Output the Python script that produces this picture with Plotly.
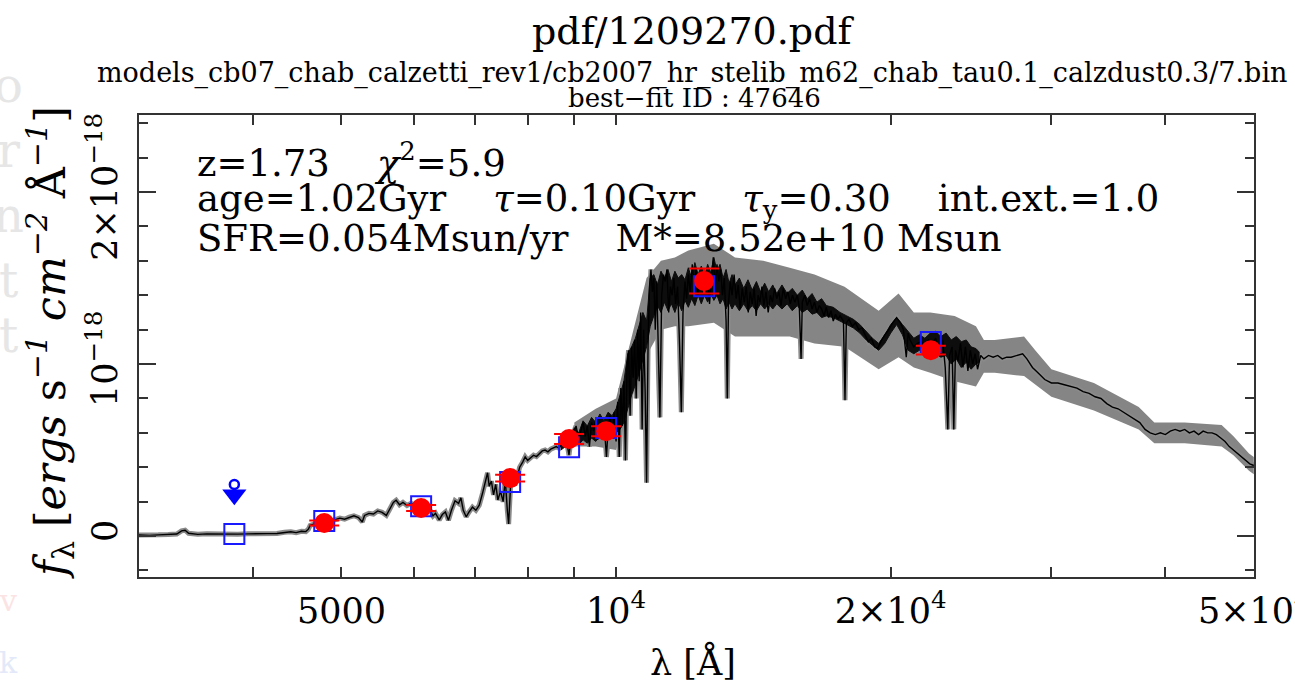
import plotly.graph_objects as go

# ---------------- data (flux in units of 1e-18 erg/s/cm2/A) ----------------
FLUX_UNIT = 1e-18

spec_wl = [3000, 3080, 3150, 3230, 3300, 3340, 3370, 3400, 3480, 3560, 3650, 3750, 3850, 3950,
           4050, 4150, 4250, 4330, 4400, 4460, 4520, 4570, 4600, 4620, 4680, 4740, 4800, 4860,
           4920, 4980, 5040, 5100, 5160, 5220, 5270, 5300, 5360, 5420, 5480, 5540, 5600, 5640,
           5700, 5740, 5790, 5840, 5900, 5960, 6020, 6080, 6140, 6200, 6260, 6300, 6340, 6400,
           6450, 6500, 6550, 6600, 6660, 6720, 6760, 6800, 6850, 6900, 6960, 7020, 7080, 7140,
           7200, 7230, 7260, 7300, 7340, 7380, 7420, 7470, 7520, 7560, 7600, 7625, 7660, 7720,
           7780, 7840, 7900, 7950, 8000, 8060, 8120, 8180, 8240, 8300, 8360, 8420, 8480, 8540,
           8600, 8660, 8720, 8780, 8840, 8880, 8920, 8980, 9040, 9100, 9150, 9200, 9250, 9300,
           9350, 9400, 9450, 9500, 9550, 9600, 9650, 9700, 9760, 9800, 9850, 9900, 9950, 10000,
           10040, 10080, 10120, 10160, 10200, 10240, 10280, 10320, 10360, 10400, 10440, 10480,
           10520, 10560, 10600, 10640, 10680, 10720, 10760, 10800, 10840, 10880, 10920, 10960,
           11000, 11040, 11080, 11130, 11170, 11220, 11270, 11320, 11370, 11420, 11470, 11520,
           11570, 11620, 11680, 11740, 11790, 11840, 11900, 11950, 12000, 12060, 12120, 12180,
           12240, 12300, 12360, 12420, 12480, 12540, 12600, 12660, 12720, 12780, 12840, 12900,
           12960, 13020, 13080, 13140, 13200, 13240, 13280, 13340, 13400, 13470, 13540, 13610,
           13680, 13750, 13820, 13890, 13960, 14030, 14100, 14170, 14240, 14310, 14380, 14450,
           14520, 14600, 14680, 14760, 14840, 14920, 15000, 15080, 15160, 15250, 15340, 15430,
           15520, 15610, 15700, 15800, 15880, 15950, 16000, 16100, 16200, 16300, 16400, 16500,
           16600, 16700, 16800, 16900, 17000, 17100, 17200, 17300, 17400, 17500, 17600, 17750,
           17820, 17880, 18000, 18150, 18300, 18450, 18600, 18750, 18900, 19050, 19200, 19350,
           19500, 19700, 19900, 20100, 20300, 20500, 20650, 20800, 20900, 21000, 21200, 21400,
           21600, 21800, 22000, 22200, 22400, 22600, 22800, 22950, 23100, 23200, 23350, 23450,
           23550, 23700, 23850, 24000, 24150, 24300, 24450, 24600, 24750, 24900, 25100, 25300,
           25600, 25900, 26200, 26500, 26800, 27100, 27500, 27900, 28200, 28600, 29000, 29500,
           30000, 30500, 31000, 31500, 32000, 32500, 33000, 33500, 34000, 34500, 35000, 35500,
           36000, 36500, 37000, 37500, 38000, 38500, 39000, 39500, 40000, 40500, 41000, 41500,
           42000, 42500, 43000, 43500, 44000, 44500, 45000, 45500, 46000, 46500, 47000, 47500,
           48000, 48500, 49000, 49500, 50000]

spec_flux = [0.006, 0.004, 0.007, 0.009, 0.012, 0.030, 0.034, 0.016, 0.010, 0.013, 0.011, 0.012, 0.011, 0.013,
             0.012, 0.014, 0.015, 0.022, 0.025, 0.020, 0.028, 0.026, 0.040, 0.062, 0.072, 0.066, 0.078, 0.086,
             0.096, 0.104, 0.098, 0.110, 0.118, 0.108, 0.082, 0.120, 0.132, 0.128, 0.146, 0.138, 0.120, 0.150,
             0.196, 0.208, 0.182, 0.196, 0.178, 0.190, 0.182, 0.168, 0.176, 0.160, 0.146, 0.118, 0.132, 0.094,
             0.125, 0.140, 0.092, 0.150, 0.205, 0.190, 0.222, 0.150, 0.112, 0.140, 0.168, 0.150, 0.180, 0.250,
             0.330, 0.368, 0.290, 0.320, 0.240, 0.300, 0.210, 0.260, 0.200, 0.330, 0.150, 0.070, 0.280, 0.340,
             0.330, 0.400, 0.430, 0.460, 0.440, 0.455, 0.470, 0.462, 0.480, 0.495, 0.500, 0.490, 0.505, 0.515,
             0.520, 0.510, 0.535, 0.545, 0.530, 0.470, 0.555, 0.600, 0.640, 0.560, 0.620, 0.660, 0.580, 0.640,
             0.520, 0.660, 0.610, 0.680, 0.560, 0.640, 0.590, 0.660, 0.460, 0.620, 0.700, 0.580, 0.720, 0.550,
             0.780, 0.460, 0.860, 0.640, 0.900, 0.440, 0.980, 1.080, 0.700, 1.100, 0.920, 1.140,
             0.800, 1.200, 0.900, 1.300, 0.620, 1.200, 0.850, 0.310, 1.100, 1.450, 1.550, 1.420,
             1.500, 1.200, 1.480, 0.950, 0.690, 1.400, 1.520, 1.480, 1.550, 1.300, 1.450, 1.400,
             1.500, 1.350, 1.450, 1.100, 0.720, 1.300, 1.480, 1.380, 1.520, 1.420, 1.580, 1.450,
             1.550, 1.400, 1.500, 1.460, 1.550, 1.420, 1.520, 1.350, 1.500, 1.620, 1.450, 1.580,
             1.480, 1.550, 1.400, 1.500, 1.250, 0.800, 1.350, 1.480, 1.400, 1.520, 1.380, 1.460,
             1.320, 1.440, 1.360, 1.450, 1.300, 1.420, 1.350, 1.440, 1.280, 1.400, 1.360, 1.450,
             1.340, 1.420, 1.300, 1.400, 1.360, 1.440, 1.380, 1.420, 1.340, 1.440, 1.380, 1.420,
             1.350, 1.400, 1.360, 1.400, 1.330, 1.030, 1.360, 1.400, 1.340, 1.380, 1.320, 1.360,
             1.300, 1.340, 1.320, 1.280, 1.330, 1.270, 1.310, 1.250, 1.290, 1.260, 1.280, 1.250,
             0.790, 1.240, 1.260, 1.220, 1.240, 1.200, 1.210, 1.170, 1.130, 1.150, 1.100, 1.090,
             1.130, 1.170, 1.200, 1.240, 1.270, 1.240, 1.200, 1.040, 1.180, 1.140, 1.100, 1.120,
             1.130, 1.110, 1.140, 1.120, 1.150, 1.080, 1.140, 0.980, 0.620, 1.050, 1.100, 0.620,
             1.080, 1.020, 1.120, 0.980, 1.100, 0.960, 1.080, 1.000, 1.060, 0.970, 1.050, 1.030,
             1.050, 1.040, 1.050, 1.030, 1.040, 1.040, 1.050, 1.060, 1.030, 0.980, 0.950, 0.910,
             0.890, 0.890, 0.880, 0.870, 0.860, 0.840, 0.830, 0.810, 0.800, 0.770, 0.750, 0.740,
             0.720, 0.700, 0.680, 0.660, 0.620, 0.600, 0.590, 0.600, 0.590, 0.610, 0.620, 0.610,
             0.620, 0.600, 0.610, 0.590, 0.610, 0.600, 0.600, 0.590, 0.570, 0.550, 0.520, 0.500,
             0.480, 0.460, 0.440, 0.420, 0.410]

# extent of the densely blended absorption features (solid black region)
blend_wl = [8700, 8800, 8900, 9000, 9100, 9200, 9300, 9400, 9500, 9600, 9700, 9800, 9900,
            10000, 10100, 10200, 10300, 10400, 10500, 10600, 10700, 10800, 10900, 11000, 11100,
            11200, 11300, 11400, 11500, 11600, 11700, 11800, 11900, 12000, 12100, 12200, 12300,
            12400, 12500, 12600, 12700, 12800, 12900, 13000, 13100, 13200, 13300, 13400, 13500,
            13650, 13800, 13950, 14100, 14250, 14400, 14550, 14700, 14850, 15000, 15200, 15400,
            15600, 15800, 16000, 16200, 16400, 16600, 16800, 17000, 17300, 17600, 17900, 18200,
            18500, 18800, 19100, 19400, 19700, 20000, 20300, 20600, 20900, 21200, 21500, 21800,
            22100, 22400, 22700, 23000, 23300, 23600, 23900, 24200, 24500, 24800, 25000]
blend_hi = [0.55, 0.58, 0.56, 0.63, 0.60, 0.67, 0.64, 0.69, 0.66, 0.71, 0.67, 0.72, 0.70,
            0.74, 0.82, 0.90, 1.06, 1.10, 1.15, 1.22, 1.30, 1.25, 1.50, 1.52, 1.46,
            1.54, 1.50, 1.55, 1.48, 1.54, 1.50, 1.52, 1.49, 1.56, 1.50, 1.59, 1.52,
            1.57, 1.51, 1.58, 1.53, 1.62, 1.54, 1.58, 1.50, 1.55, 1.47, 1.52, 1.46,
            1.50, 1.44, 1.49, 1.43, 1.48, 1.42, 1.47, 1.42, 1.46, 1.41, 1.46, 1.41,
            1.44, 1.40, 1.43, 1.38, 1.41, 1.36, 1.38, 1.34, 1.33, 1.30, 1.28, 1.26,
            1.23, 1.19, 1.15, 1.12, 1.17, 1.23, 1.27, 1.23, 1.19, 1.15, 1.17, 1.15,
            1.18, 1.19, 1.16, 1.18, 1.14, 1.16, 1.13, 1.14, 1.10, 1.09, 1.07]
blend_lo = [0.50, 0.52, 0.51, 0.54, 0.53, 0.56, 0.54, 0.57, 0.55, 0.58, 0.56, 0.58, 0.57,
            0.60, 0.62, 0.66, 0.74, 0.82, 0.88, 0.95, 1.02, 1.10, 1.22, 1.28, 1.34,
            1.30, 1.36, 1.31, 1.35, 1.30, 1.36, 1.31, 1.37, 1.33, 1.38, 1.34, 1.40,
            1.35, 1.40, 1.36, 1.41, 1.37, 1.40, 1.35, 1.38, 1.32, 1.36, 1.32, 1.35,
            1.31, 1.35, 1.31, 1.34, 1.31, 1.35, 1.32, 1.35, 1.32, 1.35, 1.32, 1.35,
            1.31, 1.34, 1.30, 1.32, 1.29, 1.30, 1.27, 1.28, 1.27, 1.25, 1.23, 1.21,
            1.18, 1.14, 1.11, 1.08, 1.12, 1.18, 1.23, 1.17, 1.08, 1.06, 1.08, 1.06,
            1.08, 1.06, 1.04, 1.05, 1.00, 1.03, 0.98, 1.01, 0.97, 1.00, 1.01]

# uncertainty envelope of the model spectrum (grey band)
band_wl = [9000, 9500, 10000, 10400, 10800, 11200, 11600, 12000, 12800, 13500, 14500, 15500,
           16500, 17800, 19400, 20400, 21200, 22100, 23500, 24800, 25300, 26000, 28000, 28800,
           30000, 33400, 37400, 38900, 42000, 46100, 47500, 49400, 50000]
band_hi = [0.66, 0.74, 0.80, 1.15, 1.50, 1.60, 1.62, 1.66, 1.70, 1.62, 1.60, 1.56,
           1.52, 1.45, 1.31, 1.41, 1.30, 1.30, 1.28, 1.22, 1.14, 1.14, 1.16, 1.08,
           0.97, 0.89, 0.75, 0.66, 0.66, 0.645, 0.58, 0.48, 0.46]
band_lo = [0.52, 0.52, 0.50, 0.80, 1.05, 1.20, 1.22, 1.22, 1.24, 1.16, 1.16, 1.16,
           1.12, 1.10, 0.97, 1.04, 0.98, 0.95, 0.90, 0.87, 0.95, 0.95, 0.93, 0.88,
           0.81, 0.73, 0.62, 0.54, 0.54, 0.52, 0.47, 0.38, 0.36]

# photometry
filter_wl = [3816, 4788, 6114, 7654, 8882, 9751, 12486, 22130]
model_flux = [0.012, 0.087, 0.174, 0.314, 0.517, 0.628, 1.453, 1.128]
obs_wl = [4788, 6114, 7654, 8882, 9751, 12486, 22130]
obs_flux = [0.076, 0.163, 0.337, 0.564, 0.610, 1.483, 1.081]
obs_err = [0.015, 0.017, 0.020, 0.029, 0.029, 0.073, 0.026]
limit_wl = [3816]
limit_flux = [0.30]

# axis ticks
x_tickvals = [5000, 10000, 20000, 50000]
x_ticktext = ["5000", "10<sup>4</sup>", "2×10<sup>4</sup>", "5×10<sup>4</sup>"]
x_minorvals = [3000, 4000, 6000, 7000, 8000, 9000, 30000, 40000]
y_tickvals = [0, 1, 2]
y_ticktext = ["0", "10<sup>−18</sup>", "2×10<sup>−18</sup>"]

FONT = "DejaVu Serif"
AXC = "#333333"

def sc(v):
    return [a * FLUX_UNIT for a in v]

fig = go.Figure()

# grey band
fig.add_trace(go.Scatter(
    x=band_wl + band_wl[::-1], y=sc(band_hi + band_lo[::-1]),
    fill="toself", fillcolor="#858585", line=dict(width=0), mode="lines",
    hoverinfo="skip", showlegend=False))
# grey halo of spectrum
fig.add_trace(go.Scatter(x=spec_wl, y=sc(spec_flux), mode="lines",
                         line=dict(color="#8a8a8a", width=5), showlegend=False, hoverinfo="skip"))
# blended absorption region
fig.add_trace(go.Scatter(
    x=blend_wl + blend_wl[::-1], y=sc(blend_hi + blend_lo[::-1]),
    fill="toself", fillcolor="#0d0d0d", line=dict(width=1, color="#0d0d0d"), mode="lines",
    hoverinfo="skip", showlegend=False))
# spectrum
fig.add_trace(go.Scatter(x=spec_wl, y=sc(spec_flux), mode="lines",
                         line=dict(color="black", width=1.4), showlegend=False))
# model photometry
fig.add_trace(go.Scatter(x=filter_wl, y=sc(model_flux), mode="markers",
                         marker=dict(symbol="square-open", size=20, color="#1a1aff",
                                     line=dict(width=2, color="#1a1aff")), showlegend=False))
# observed photometry
fig.add_trace(go.Scatter(x=obs_wl, y=sc(obs_flux), mode="markers",
                         marker=dict(symbol="circle", size=20, color="#ff0000"),
                         error_y=dict(type="data", array=sc(obs_err), color="#ff0000",
                                      thickness=2, width=15), showlegend=False))
# upper limit
fig.add_trace(go.Scatter(x=limit_wl, y=sc([limit_flux[0] - 0.06]), mode="markers",
                         marker=dict(symbol="triangle-down", size=21, color="#0000ff"), showlegend=False))
fig.add_trace(go.Scatter(x=limit_wl, y=sc(limit_flux), mode="markers",
                         marker=dict(symbol="circle-open", size=9, color="#0000ff",
                                     line=dict(width=2.5, color="#0000ff")), showlegend=False))

L, R, T, B = 139, 1254, 115, 577
W, H = 1295, 685
def xp(px):
    return (px - L) / (R - L)
def yp(py):
    return (B - py) / (B - T)

NB = "\u00a0"
SP = NB * 4
ann = []
def add(text, x, y, size, xanchor="center", yanchor="middle", color="black", angle=0):
    ann.append(dict(text=text, x=xp(x), y=yp(y), xref="paper", yref="paper", showarrow=False,
                    xanchor=xanchor, yanchor=yanchor, textangle=angle,
                    font=dict(family=FONT, size=size, color=color)))

add("pdf/1209270.pdf", 693, 31, 38)
add("models_cb07_chab_calzetti_rev1/cb2007_hr_stelib_m62_chab_tau0.1_calzdust0.3/7.bin", 692, 73, 27)
add("best−fit ID : 47646", 694, 98, 26)
add("z=1.73" + SP + "<i>χ</i><sup>2</sup>=5.9", 195, 160, 37, xanchor="left")
add("age=1.02Gyr" + SP + "<i>τ</i>=0.10Gyr" + SP + "<i>τ</i><sub>y</sub>=0.30" + SP + "int.ext.=1.0",
    195, 201, 37, xanchor="left")
add("SFR=0.054Msun/yr" + SP + "M*=8.52e+10 Msun", 195, 238, 37, xanchor="left")
add("λ [Å]", 693, 662, 35)
add("<i>f</i><sub>λ</sub> [<i>ergs</i>" + NB + "s<sup><i>−1</i></sup>" + NB + "<i>cm</i><sup><i>−2</i></sup>"
    + NB + "Å<sup><i>−1</i></sup>]", 50, 343, 43, angle=-90)
# faint letters bleeding in from the page behind
for ch, py in [("o", 85), ("r", 150), ("n", 215), ("t", 280), ("t", 335)]:
    add(ch, 8, py, 48, color="#e6e6e6")
add("v", 8, 600, 30, color="#fbe3e3")
add("k", 8, 662, 30, color="#e3e9f8")

fig.update_layout(
    width=W, height=H, margin=dict(l=L, r=W - R, t=T, b=H - B, autoexpand=False),
    paper_bgcolor="white", plot_bgcolor="white", showlegend=False,
    annotations=ann,
    xaxis=dict(type="log", range=[3.4771, 4.6992], showgrid=False, zeroline=False,
               automargin=False,
               showline=True, linecolor=AXC, linewidth=2, mirror="ticks",
               ticks="inside", ticklen=10, tickwidth=1.5, tickcolor=AXC,
               tickmode="array", tickvals=x_tickvals, ticktext=x_ticktext,
               ticklabeloverflow="allow",
               tickfont=dict(family=FONT, size=35, color="black"), ticklabelstandoff=2,
               minor=dict(tickmode="array", tickvals=x_minorvals, ticks="inside",
                          ticklen=10, tickwidth=1.5, tickcolor=AXC, showgrid=False)),
    yaxis=dict(range=[-0.238e-18, 2.448e-18], showgrid=False, zeroline=False,
               automargin=False,
               showline=True, linecolor=AXC, linewidth=2, mirror="ticks",
               ticks="inside", ticklen=17, tickwidth=1.5, tickcolor=AXC,
               tickmode="array", tickvals=sc(y_tickvals), ticktext=y_ticktext, tickangle=-90,
               tickfont=dict(family=FONT, size=35, color="black"), ticklabelstandoff=6,
               minor=dict(tickmode="linear", tick0=0, dtick=0.2e-18, ticks="inside",
                          ticklen=9, tickwidth=1.5, tickcolor=AXC, showgrid=False)),
)

fig.write_html("out.html")
